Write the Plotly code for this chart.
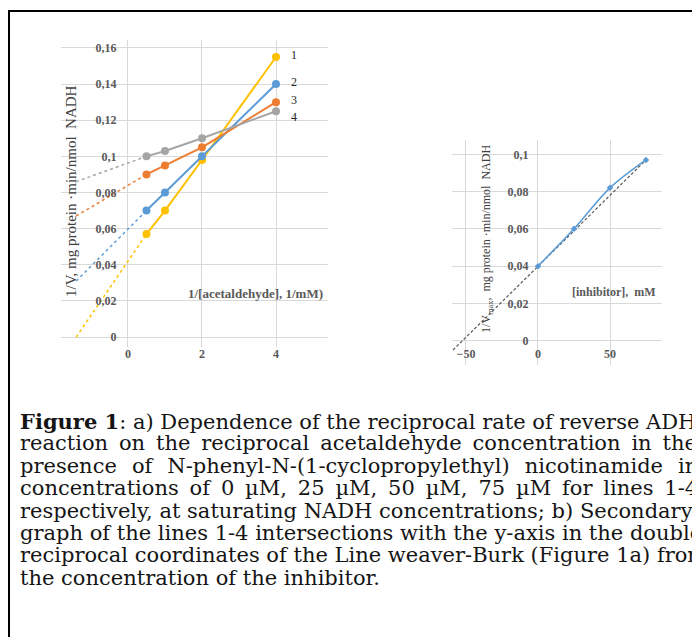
import plotly.graph_objects as go

W, H = 692, 637

# ---------- data: panel a (Lineweaver-Burk) ----------
inv_acetaldehyde = [0.5, 1, 2, 4]
series_names = ["1", "2", "3", "4"]
series_colors = ["#FFC000", "#5B9BD5", "#ED7D31", "#A5A5A5"]
line1 = [0.057, 0.070, 0.098, 0.155]
line2 = [0.070, 0.080, 0.100, 0.140]
line3 = [0.090, 0.095, 0.105, 0.130]
line4 = [0.100, 0.103, 0.110, 0.125]
series_values = [line1, line2, line3, line4]
# dotted backward trend extensions
trend_x = [-1.4, 0.5]
trend1 = [0.000, 0.057]
trend2 = [0.031, 0.070]
trend3 = [0.067, 0.090]
trend4 = [0.086, 0.100]
trend_values = [trend1, trend2, trend3, trend4]
label_y = [0.156, 0.141, 0.131, 0.122]

a_xticks = [0, 2, 4]
a_yticks = [0, 0.02, 0.04, 0.06, 0.08, 0.10, 0.12, 0.14, 0.16]
a_yticktext = ["0", "0,02", "0,04", "0,06", "0,08", "0,1", "0,12", "0,14", "0,16"]

# ---------- data: panel b (secondary plot) ----------
inhibitor = [0, 25, 50, 75]
intercepts = [0.040, 0.060, 0.082, 0.097]
fit_x = [-59, 75]
fit_y = [-0.005, 0.097]
b_xticks = [-50, 0, 50]
b_yticks = [0, 0.02, 0.04, 0.06, 0.08, 0.10]
b_yticktext = ["0", "0,02", "0,04", "0,06", "0,08", "0,1"]

caption_lines = [
    "<b>Figure 1</b>: a) Dependence of the reciprocal rate of reverse ADH",
    "reaction on the reciprocal acetaldehyde concentration in the",
    "presence of N-phenyl-N-(1-cyclopropylethyl) nicotinamide in",
    "concentrations of 0 µM, 25 µM, 50 µM, 75 µM for lines 1-4,",
    "respectively, at saturating NADH concentrations; b) Secondary",
    "graph of the lines 1-4 intersections with the y-axis in the double",
    "reciprocal coordinates of the Line weaver-Burk (Figure 1a) from",
    "the concentration of the inhibitor.",
]
# extra thin spaces per word gap (justification)
caption_pad = [0, 1, 2, 1, 0, 0, 0, 0]

# ---------- layout helpers (pixel -> paper) ----------
def px(x):
    return x / W

def py(y):
    return 1 - y / H

GRID = "#D9D9D9"
TICKFONT = dict(family="Liberation Serif", size=12, color="#595959", weight="bold")

fig = go.Figure()

for name, col, vals, tv in zip(series_names, series_colors, series_values, trend_values):
    fig.add_trace(go.Scatter(x=trend_x, y=tv, mode="lines", xaxis="x", yaxis="y",
                             line=dict(color=col, width=1.5, dash="dot"),
                             showlegend=False, hoverinfo="skip"))
for name, col, vals in zip(series_names, series_colors, series_values):
    fig.add_trace(go.Scatter(x=inv_acetaldehyde, y=vals, mode="lines+markers", name=name,
                             xaxis="x", yaxis="y",
                             line=dict(color=col, width=2),
                             marker=dict(color=col, size=8), showlegend=False))

fig.add_trace(go.Scatter(x=fit_x, y=fit_y, mode="lines", xaxis="x2", yaxis="y2",
                         line=dict(color="#595959", width=1.2, dash="3px,2px"),
                         showlegend=False, hoverinfo="skip"))
fig.add_trace(go.Scatter(x=inhibitor, y=intercepts, mode="lines+markers", xaxis="x2", yaxis="y2",
                         line=dict(color="#5B9BD5", width=1.5, shape="spline"),
                         marker=dict(color="#5B9BD5", size=5, symbol="diamond"),
                         showlegend=False))

annotations = []
for name, ly in zip(series_names, label_y):
    annotations.append(dict(x=4, y=ly, xref="x", yref="y", text=name, showarrow=False,
                            xanchor="left", yanchor="middle", xshift=13,
                            font=dict(family="Liberation Serif", size=12, color="#262626")))
annotations.append(dict(x=px(71), y=py(191), xref="paper", yref="paper",
                        xanchor="center", yanchor="middle",
                        text="1/V, mg protein ·min/nmol  NADH", textangle=-90, showarrow=False,
                        font=dict(family="Liberation Serif", size=15, color="#404040")))
annotations.append(dict(x=px(325), y=py(293), xref="paper", yref="paper",
                        xanchor="right", yanchor="middle",
                        text="1/[acetaldehyde], 1/mM)", showarrow=False,
                        font=dict(family="Liberation Serif", size=13, color="#595959", weight="bold")))
annotations.append(dict(x=px(487), y=py(239), xref="paper", yref="paper",
                        xanchor="center", yanchor="middle",
                        text="1/V<sub>max</sub>,  mg protein ·min/nmol  NADH", textangle=-90,
                        showarrow=False,
                        font=dict(family="Liberation Serif", size=12, color="#404040")))
annotations.append(dict(x=px(658), y=py(292), xref="paper", yref="paper",
                        xanchor="right", yanchor="middle",
                        text="[inhibitor],  mM", showarrow=False,
                        font=dict(family="Liberation Serif", size=12, color="#595959", weight="bold")))

for i, (line, pad) in enumerate(zip(caption_lines, caption_pad)):
    txt = line.replace("</b> ", "</b>#").replace(" ", "\u00a0" + "\u2009" * pad).replace("#", " ")
    annotations.append(dict(x=px(18), y=py(421 + 22.4 * i), xref="paper", yref="paper",
                            xanchor="left", yanchor="middle", text=txt, showarrow=False,
                            font=dict(family="DejaVu Serif", size=21, color="#151515")))

fig.update_layout(
    width=W, height=H, margin=dict(l=0, r=0, t=0, b=0),
    paper_bgcolor="white", plot_bgcolor="white",
    xaxis=dict(domain=[px(61), px(328)], range=[-1.81, 5.405], tickvals=a_xticks,
               showgrid=True, gridcolor=GRID, zeroline=False, showline=False,
               anchor="free", position=py(337), ticks="outside", ticklen=6,
               tickcolor="rgba(0,0,0,0)", tickfont=TICKFONT),
    yaxis=dict(domain=[py(347), py(40)], range=[-0.0055, 0.1644], tickvals=a_yticks,
               ticktext=a_yticktext, showgrid=True, gridcolor=GRID, zeroline=False,
               showline=False, anchor="free", position=px(128), ticks="outside", ticklen=9,
               tickcolor="rgba(0,0,0,0)", tickfont=TICKFONT),
    xaxis2=dict(domain=[px(452), px(662)], range=[-59.7, 86.1], tickvals=b_xticks,
                showgrid=True, gridcolor=GRID, zeroline=False, showline=False,
                anchor="free", position=py(340.7), ticks="outside", ticklen=2,
                tickcolor="rgba(0,0,0,0)", tickfont=TICKFONT),
    yaxis2=dict(domain=[py(365), py(140)], range=[-0.01304, 0.10767], tickvals=b_yticks,
                ticktext=b_yticktext, showgrid=True, gridcolor=GRID, zeroline=False,
                showline=False, anchor="free", position=px(538), ticks="outside", ticklen=7,
                tickcolor="rgba(0,0,0,0)", tickfont=TICKFONT),
    annotations=annotations,
    shapes=[dict(type="rect", xref="paper", yref="paper", x0=px(9), x1=1.05,
                 y0=-0.05, y1=py(11), line=dict(color="black", width=2))],
)

fig.write_html("out.html", config={"displayModeBar": False},
               post_script="document.body.style.margin='0';document.body.style.overflow='hidden';")
